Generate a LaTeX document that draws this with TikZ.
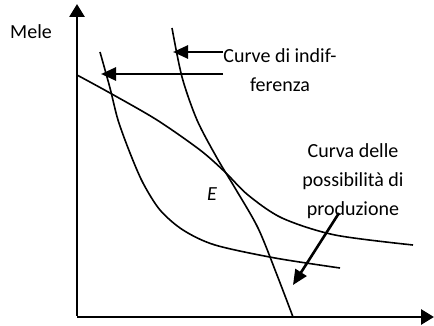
\documentclass[tikz,border=0pt]{standalone}
\usepackage{fontspec}
\setmainfont{Carlito}
\usetikzlibrary{arrows.meta,positioning}

\begin{document}
\begin{tikzpicture}[x=1pt,y=-1pt,
  axis/.style={line width=2.8pt,-{Triangle[length=13pt,width=15pt]}},
  curve/.style={line width=1.6pt},
  pointer/.style={line width=2.6pt,-{Triangle[length=15pt,width=13pt]}},
  lbl/.style={font=\fontsize{20}{29}\selectfont, align=center, inner sep=0pt}]
\useasboundingbox (0,0) rectangle (434,326);

% Axes
\coordinate (O) at (77,317);
\coordinate (ytop) at (77,4);
\coordinate (xend) at (434,317);
\draw[axis] ([yshift=1.4pt]O) -- (ytop);
\draw[axis] (O) -- (xend);
\node[lbl] (mele) at (31,31.5) {Mele};

% Curve (steep)
\draw[curve] plot[smooth] coordinates {(172,28) (182,77) (197,120) (217,158)
  (235,188) (258,228) (277,275) (293,317)};
% Curve from the vertical axis
\draw[curve] plot[smooth] coordinates {(77,75) (110,93) (157,120) (200,150)
  (225,172) (248,195) (282,218) (335,235) (413,245)};
% Lower curve
\draw[curve] plot[smooth] coordinates {(100,52) (110,88) (118,120) (130,153)
  (143,183) (160,210) (183,230) (215,245) (275,258) (340,268)};

\node[lbl, font=\fontsize{20}{29}\selectfont\itshape] (E) at (212,194.5) {E};

% Labels and pointers
\node[lbl] (ic) at (280,70) {Curve di indif-\\ferenza};
\coordinate (tipU) at (173,52);
\coordinate (tipL) at (101,74);
\draw[pointer] (ic.west |- tipU) -- (tipU);
\draw[pointer] (ic.west |- tipL) -- (tipL);

\node[lbl] (ppf) at (353,181.5) {Curva delle\\possibilità di\\produzione};
\coordinate (ppfstart) at (339,213);
\coordinate (ppftip) at (293,285);
\draw[pointer] (ppfstart) -- (ppftip);
\end{tikzpicture}
\end{document}
